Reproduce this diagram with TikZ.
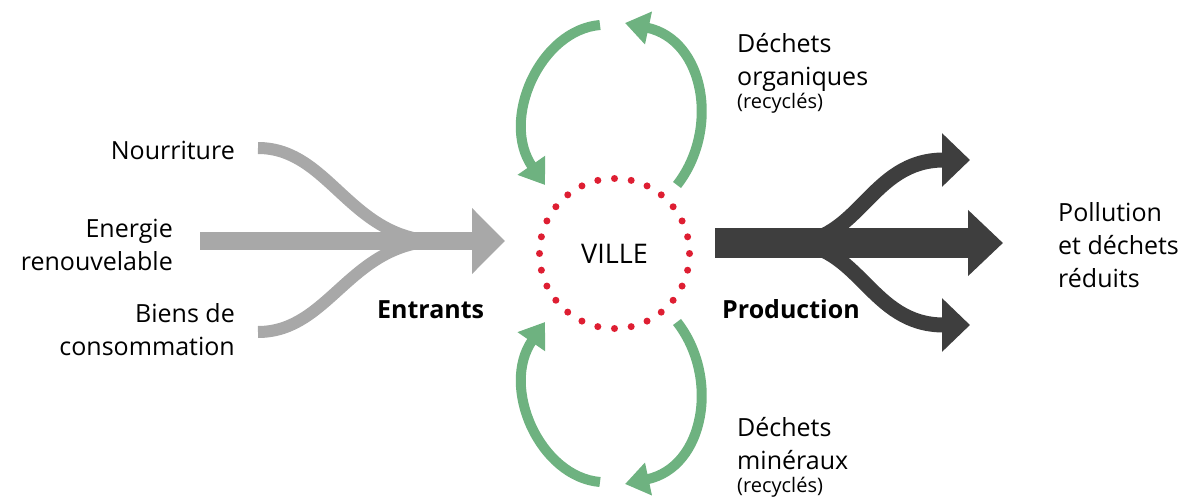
\documentclass[tikz,border=0pt]{standalone}
\usepackage{fontspec}
\setmainfont{Open Sans}
\usetikzlibrary{arrows.meta}

\definecolor{grisin}{RGB}{168,168,168}
\definecolor{grisout}{RGB}{62,62,62}
\definecolor{vert}{RGB}{110,178,128}
\definecolor{rouge}{RGB}{222,30,50}

\begin{document}
\begin{tikzpicture}[x=1pt,y=-1pt,
    label/.style={inner sep=0pt,font=\fontsize{25}{33}\selectfont},
    titre/.style={label,font=\fontsize{25}{33}\selectfont\bfseries},
    recycle/.style={vert,line width=10pt,-{Triangle[length=24pt,width=32pt]}}]

\def\petit{\fontsize{20}{22}\selectfont}

\useasboundingbox (0,0) rectangle (1196,500);

% The city in the middle
\node[circle,minimum size=150pt,inner sep=0pt,rouge,draw,line width=7pt,
      line cap=round,dash pattern=on 0pt off 16.83pt,text=black,
      font=\fontsize{27}{33}\selectfont] (ville) at (614.5,253.5) {VILLE};

% Inputs (left)
\node[label,anchor=base east] (nour) at (235,160) {Nourriture};
\node[label,anchor=base east,align=right] (ener) at (173,270) {Energie\\renouvelable};
\node[label,anchor=base east,align=right] (biens) at (235,355) {Biens de\\consommation};
\node[titre,anchor=base west] (entrants) at (377,318) {Entrants};

\coordinate (nourA) at (258,148);
\coordinate (enerA) at (200,241);
\coordinate (biensA) at (258,332);
\coordinate (joinIn) at (440,241);
\coordinate (tipIn) at (505,241);

\draw[grisin,line width=12pt] (nourA) .. controls (330,148) and (350,241) .. (joinIn);
\draw[grisin,line width=12pt] (biensA) .. controls (330,332) and (350,241) .. (joinIn);
\draw[grisin,line width=18pt,-{Triangle[length=33pt,width=64pt]}] (enerA) -- (tipIn);

% Outputs (right)
\node[titre,anchor=base west] (prod) at (722,318) {Production};
\node[label,anchor=base west,align=left] (pollu) at (1058,287) {Pollution\\et déchets\\réduits};

\coordinate (outA) at (715,243);
\coordinate (split) at (790,243);
\coordinate (tipUp) at (970,160);
\coordinate (tipMid) at (1003,243);
\coordinate (tipDown) at (970,325);

\draw[grisout,line width=15pt,-{Triangle[length=28pt,width=52pt]}] (split) .. controls (860,243) and (870,160) .. (tipUp);
\draw[grisout,line width=15pt,-{Triangle[length=28pt,width=52pt]}] (split) .. controls (860,243) and (870,325) .. (tipDown);
\draw[grisout,line width=30pt,-{Triangle[length=35pt,width=64pt]}] (outA) -- (tipMid);

% Recycling loops
\node[label,anchor=base west,align=left] (orga) at (737,109) {Déchets\\organiques\\[-10pt]{\petit(recyclés)}};
\node[label,anchor=base west,align=left] (mine) at (737,492) {Déchets\\minéraux\\[-10pt]{\petit(recyclés)}};

\coordinate (orgaA) at (600,25);
\coordinate (orgaB) at (545,185);
\coordinate (orgaC) at (677,185);
\coordinate (orgaD) at (625,23);
\draw[recycle] (orgaA) .. controls (540,30) and (500,120) .. (orgaB);
\draw[recycle] (orgaC) .. controls (720,130) and (705,40) .. (orgaD);

\coordinate (mineA) at (600,482);
\coordinate (mineB) at (545,322);
\coordinate (mineC) at (677,322);
\coordinate (mineD) at (625,484);
\draw[recycle] (mineA) .. controls (540,477) and (500,387) .. (mineB);
\draw[recycle] (mineC) .. controls (720,377) and (705,467) .. (mineD);

\end{tikzpicture}
\end{document}
